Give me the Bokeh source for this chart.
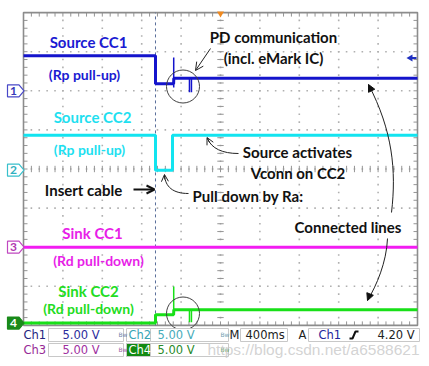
import numpy as np
from bokeh.plotting import figure
from bokeh.models import Range1d, Arrow, OpenHead, NormalHead, ColumnDataSource
from bokeh.core.properties import value
from bokeh.embed import file_html
from bokeh.resources import INLINE

# ---------------- data: time (ms, trigger = 0), voltage (V) ----------------
# settled levels of each channel
ch1_t = [-2000, -660, -660, -476, -474, 2000]
ch1_v = [4.48, 4.48, 0.90, 0.90, 1.60, 1.60]
ch2_t = [-2000, -660, -660, -487, -487, 2000]
ch2_v = [4.48, 4.48, 0.00, 0.00, 4.48, 4.48]
ch3_t = [-2000, 2000]
ch3_v = [0.00, 0.00]
ch4_t = [-2000, -660, -660, -476, -474, 2000]
ch4_v = [0.00, 0.00, 1.06, 1.06, 1.70, 1.70]
# PD-communication glitches (time, low V, high V)
ch1_glitch_t = [-475, -315, -295]
ch1_glitch_lo = [0.42, -0.20, -0.20]
ch1_glitch_hi = [4.26, 1.60, 1.60]
ch4_glitch_t = [-475, -315, -295]
ch4_glitch_lo = [1.06, 0.10, 0.10]
ch4_glitch_hi = [4.68, 1.70, 1.70]

volts_per_div = [5.0, 5.0, 5.0, 5.0]
ch_offset_div = [2.0, -0.03, -2.0, -3.94]
time_per_div = 400  # ms
insert_t = -660

ch_labels = ["Source CC1", "Source CC2", "Sink CC1", "Sink CC2"]
ch_sub = ["(Rp pull-up)", "(Rp pull-up)", "(Rd pull-down)", "(Rd pull-down)"]

# ---------------- layout helpers (picture pixels -> data) ----------------
W, H = 427, 364
ORIGIN = 0
PX_DIV_X, PX_DIV_Y = 39.4, 39.1
CX, CY = 220.0, 168.5


def X(px):
    return (px - CX) / PX_DIV_X * time_per_div


def Y(py):
    return (CY - py) / PX_DIV_Y


p = figure(width=W, height=H, output_backend="svg", toolbar_location=None,
           x_range=Range1d(X(ORIGIN), X(ORIGIN + W)), y_range=Range1d(Y(ORIGIN + H), Y(ORIGIN)),
           x_axis_location=None, y_axis_location=None, min_border=0)
p.xgrid.visible = False
p.ygrid.visible = False
p.outline_line_color = None
p.background_fill_color = "white"
p.border_fill_color = "white"

FONT = value("Lato")
SCOPE_FONT = value("DejaVu Sans")

# ---------------- graticule ----------------
dx = time_per_div / 5
dxs = np.arange(-2000, 2000 + 1e-6, dx)
dys = np.arange(-4, 4 + 1e-6, 0.2)
gx, gy = [], []
for k in range(-4, 5):
    xv = k * time_per_div
    for yy in dys[1:-1]:
        gx.append(xv); gy.append(yy)
for k in range(-3, 4):
    for xx in dxs[1:-1]:
        gx.append(xx); gy.append(k)
p.scatter(gx, gy, marker="square", size=1.6, line_color=None, fill_color="#b0b0b0")

tick_len_x = 4 / PX_DIV_X * time_per_div
tick_len_y = 4 / PX_DIV_Y
seg = dict(x0=[], y0=[], x1=[], y1=[])
for xx in dxs[1:-1]:
    seg["x0"] += [xx, xx, xx]; seg["x1"] += [xx, xx, xx]
    seg["y0"] += [4, -4, -tick_len_y * 0.8]; seg["y1"] += [4 - tick_len_y, -4 + tick_len_y, tick_len_y * 0.8]
for yy in dys[1:-1]:
    seg["y0"] += [yy, yy, yy]; seg["y1"] += [yy, yy, yy]
    seg["x0"] += [-2000, 2000, -tick_len_x * 0.8]; seg["x1"] += [-2000 + tick_len_x, 2000 - tick_len_x, tick_len_x * 0.8]
p.segment(source=ColumnDataSource(seg), x0="x0", y0="y0", x1="x1", y1="y1", line_color="#959595", line_width=1)
p.quad(left=-2000, right=2000, bottom=-4, top=4, fill_color=None, line_color="#8c8c8c", line_width=1.6)

# insert marker
p.segment(x0=insert_t, y0=-4, x1=insert_t, y1=4, line_color="#5a6f9a", line_width=1, line_dash="3 3")

# ---------------- traces ----------------
colors = ["#1414cc", "#12e4f0", "#f21cf2", "#18e018"]
for i, (t, v) in enumerate([(ch1_t, ch1_v), (ch2_t, ch2_v), (ch3_t, ch3_v), (ch4_t, ch4_v)]):
    yy = [ch_offset_div[i] + vv / volts_per_div[i] for vv in v]
    p.line(t, yy, line_color=colors[i], line_width=3)
for i, (gt, lo, hi) in [(0, (ch1_glitch_t, ch1_glitch_lo, ch1_glitch_hi)),
                        (3, (ch4_glitch_t, ch4_glitch_lo, ch4_glitch_hi))]:
    p.segment(x0=gt, x1=gt,
              y0=[ch_offset_div[i] + v / volts_per_div[i] for v in lo],
              y1=[ch_offset_div[i] + v / volts_per_div[i] for v in hi],
              line_color=colors[i], line_width=1.5)

# circles around PD communication
p.scatter(x=[X(182.5)] * 2, y=[Y(86), Y(313)], size=33, marker="circle",
          fill_color=None, line_color="#404040", line_width=1)

# trigger position and level markers
p.scatter(x=[0], y=[Y(13)], marker="inverted_triangle", size=7, fill_color="#f08a20", line_color=None)
p.scatter(x=[X(410)], y=[Y(57.5)], marker="triangle", angle=np.pi / 2, size=7, fill_color="#2030c0", line_color=None)
p.segment(x0=X(410), y0=Y(57.5), x1=X(416), y1=Y(57.5), line_color="#2030c0", line_width=2)

# ---------------- channel ground markers ----------------
mk_line = ["#4848c8", "#38c0cc", "#c048c0", "#1a8a1a"]
mk_fill = ["white", "white", "white", "#1a8a1a"]
mk_text = ["#3838b8", "#30b0c0", "#b038b0", "white"]
xs, ys = [], []
for i in range(4):
    yc = CY - ch_offset_div[i] * PX_DIV_Y
    xs.append([X(7), X(18.5), X(23.5), X(18.5), X(7)])
    ys.append([Y(yc - 6), Y(yc - 6), Y(yc), Y(yc + 6), Y(yc + 6)])
p.patches(xs, ys, fill_color=mk_fill, line_color=mk_line, line_width=1.2)
p.text(x=[X(13)] * 4, y=ch_offset_div, text=["1", "2", "3", "4"], text_color=mk_text,
       text_font=FONT, text_font_style="bold", text_font_size="12px",
       text_align="center", text_baseline="middle")

# ---------------- annotations ----------------
big = ColumnDataSource(dict(
    x=[X(88), X(92), X(92), X(88)],
    y=[Y(41), Y(116), Y(232), Y(290)],
    text=ch_labels, color=["#1a1ad2", "#1ee0f0", "#e81ee8", "#22dc22"]))
p.text(source=big, x="x", y="y", text="text", text_color="color", text_font=FONT,
       text_font_style="bold", text_font_size="15px", text_align="center", text_baseline="middle")
small = ColumnDataSource(dict(
    x=[X(84), X(89), X(98), X(88)],
    y=[Y(74), Y(149), Y(260), Y(308)],
    text=ch_sub, color=["#1a1ad2", "#1ee0f0", "#e81ee8", "#22dc22"]))
p.text(source=small, x="x", y="y", text="text", text_color="color", text_font=FONT,
       text_font_style="bold", text_font_size="14px", text_align="center", text_baseline="middle")

notes = ColumnDataSource(dict(
    x=[X(273), X(273), X(297), X(297.5), X(83), X(247.5), X(347.5)],
    y=[Y(36), Y(57), Y(151), Y(172), Y(189), Y(195), Y(226)],
    text=["PD communication", "(incl. eMark IC)", "Source activates", "Vconn on CC2",
          "Insert cable", "Pull down by Ra:", "Connected lines"]))
p.text(source=notes, x="x", y="y", text="text", text_color="#111111", text_font=FONT,
       text_font_style="bold", text_font_size="15px", text_align="center", text_baseline="middle")

# arrows
p.add_layout(Arrow(end=OpenHead(size=8, line_width=1, line_color="#222222"),
                   x_start=X(210), y_start=Y(48), x_end=X(195), y_end=Y(70),
                   line_color="#222222", line_width=1))
p.add_layout(Arrow(end=OpenHead(size=8, line_width=2, line_color="#111111"),
                   x_start=X(133), y_start=Y(189), x_end=X(154), y_end=Y(189),
                   line_color="#111111", line_width=2))
p.bezier(x0=X(238), y0=Y(153), x1=X(207), y1=Y(138), cx0=X(222), cy0=Y(153), cx1=X(211), cy1=Y(148),
         line_color="#222222", line_width=1)
p.add_layout(Arrow(end=OpenHead(size=7, line_width=1, line_color="#222222"),
                   x_start=X(209), y_start=Y(142), x_end=X(206.5), y_end=Y(137),
                   line_color="#222222", line_width=1))
p.bezier(x0=X(188), y0=Y(193), x1=X(164), y1=Y(175), cx0=X(172), cy0=Y(193), cx1=X(165), cy1=Y(186),
         line_color="#222222", line_width=1)
p.add_layout(Arrow(end=OpenHead(size=7, line_width=1, line_color="#222222"),
                   x_start=X(164.3), y_start=Y(179), x_end=X(164), y_end=Y(174),
                   line_color="#222222", line_width=1))
p.bezier(x0=X(391), y0=Y(212), x1=X(368), y1=Y(84), cx0=X(396), cy0=Y(170), cx1=X(392), cy1=Y(130),
         line_color="#222222", line_width=1)
p.add_layout(Arrow(end=NormalHead(size=7, fill_color="#111111", line_color="#111111"),
                   x_start=X(371), y_start=Y(90), x_end=X(368), y_end=Y(84),
                   line_color="#222222", line_width=1))
p.bezier(x0=X(387), y0=Y(238), x1=X(367), y1=Y(300), cx0=X(386), cy0=Y(262), cx1=X(376), cy1=Y(285),
         line_color="#222222", line_width=1)
p.add_layout(Arrow(end=NormalHead(size=7, fill_color="#111111", line_color="#111111"),
                   x_start=X(369), y_start=Y(295), x_end=X(367), y_end=Y(300),
                   line_color="#222222", line_width=1))

# ---------------- status bar ----------------
bl = [48, 126, 150, 240, 308, 48, 126, 150]
br = [123, 150, 228, 287, 419, 123, 150, 228]
bt = [328, 328, 328, 328, 328, 343, 343, 343]
bb = [341, 341, 341, 341, 341, 356, 356, 356]
bf = ["white"] * 6 + ["#128a12", "white"]
p.quad(left=[X(v) for v in bl], right=[X(v) for v in br], top=[Y(v) for v in bt],
       bottom=[Y(v) for v in bb], fill_color=bf, line_color="#c8c8c8", line_width=1)

stat = ColumnDataSource(dict(
    x=[X(v) for v in [23, 62, 128, 157, 229, 245, 298, 318, 377, 23, 62, 128, 157]],
    y=[Y(334.5)] * 9 + [Y(349.5)] * 4,
    text=["Ch1", "5.00 V", "Ch2", "5.00 V", "M", "400ms", "A", "Ch1", "4.20 V",
          "Ch3", "5.00 V", "Ch4", "5.00 V"],
    color=["#24247e", "#2c2c9c", "#38a4b4", "#48acba", "#222222", "#222222", "#222222", "#24249c",
           "#222222", "#962a96", "#a030a0", "white", "#2a8a2a"]))
p.text(source=stat, x="x", y="y", text="text", text_color="color", text_font=SCOPE_FONT,
       text_font_size="11.5px", text_align="left", text_baseline="middle")
bw = ColumnDataSource(dict(x=[X(118), X(220), X(118), X(220)], y=[Y(334)] * 2 + [Y(349)] * 2,
                           color=["#7080a8", "#70a0b0", "#9a60a0", "#60a060"]))
p.text(source=bw, x="x", y="y", text=value("Bw"), text_color="color", text_font=SCOPE_FONT,
       text_font_size="6px", text_align="left", text_baseline="middle")
p.line(x=[X(349), X(352), X(355), X(358)], y=[Y(338), Y(338), Y(331), Y(331)],
       line_color="#111111", line_width=2)

p.text(x=[X(207)], y=[Y(349)], text=["https://blog.csdn.net/a6588621"], text_color="#c8c8c8",
       text_alpha=0.8, text_font=value("Liberation Sans"), text_font_size="15.5px",
       text_align="left", text_baseline="middle")

open("out.html", "w").write(file_html(p, INLINE))
